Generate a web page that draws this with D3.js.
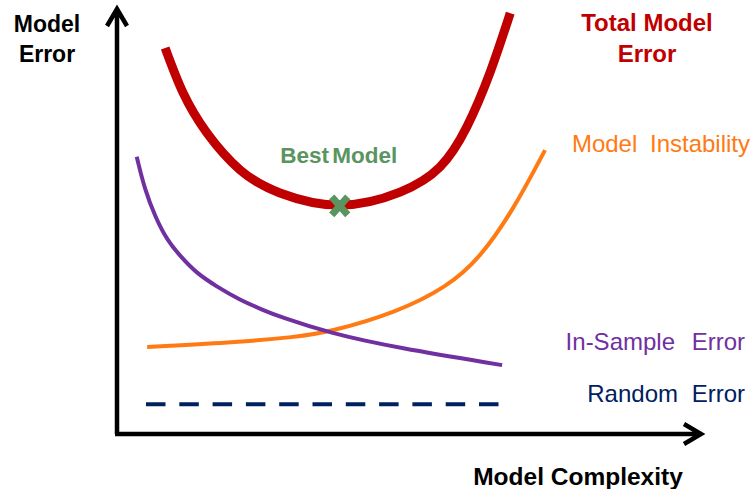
<!DOCTYPE html>
<html>
<head>
<meta charset="utf-8">
<script src="https://cdn.jsdelivr.net/npm/d3@7"></script>
<style>
  html, body { margin: 0; padding: 0; background: #fff; }
  svg text { font-family: Arial, "Liberation Sans", sans-serif; }
</style>
</head>
<body>
<div id="chart"></div>
<script>
const WIDTH = 753;
const HEIGHT = 489;

// complexity / error values (0-100 both ways)
const totalX = [8.3, 11.4, 15.5, 21.2, 28.1, 38.4, 48.8, 55.7, 60.3, 64.3, 67.8];
const totalY = [91.9, 81.2, 71.7, 62.9, 57.4, 54.5, 57.6, 63.6, 73.1, 86.0, 100.2];

const instabilityX = [5.2, 19.5, 31.0, 36.7, 48.3, 56.9, 62.6, 68.3, 73.8];
const instabilityY = [20.7, 21.7, 23.1, 24.3, 29.0, 35.0, 41.9, 53.3, 67.6];

const inSampleX = [3.4, 4.8, 6.6, 8.6, 11.0, 13.7, 17.2, 21.2, 25.2, 28.1, 36.7, 48.3, 66.4];
const inSampleY = [66.0, 58.1, 51.7, 46.2, 42.2, 38.3, 35.1, 31.9, 29.5, 27.9, 24.0, 20.5, 16.4];

const randomX = [5.0, 66.0];
const randomY = [7.1, 7.1];

const bestModel = [38.4, 54.3];

const seriesLabels = ['Total Model Error', 'Model Instability', 'In-Sample Error', 'Random Error'];
const axisLabels = ['Model Error', 'Model Complexity'];
const bestLabel = 'Best Model';

const svg = d3.select('#chart')
  .append('svg')
  .attr('width', WIDTH)
  .attr('height', HEIGHT);

const x = d3.scaleLinear().domain([0, 100]).range([117, 697]);
const y = d3.scaleLinear().domain([0, 100]).range([434, 14]);

const zip = (xs, ys) => xs.map((v, i) => [v, ys[i]]);

const lineWith = (curve) => d3.line()
  .x((d) => x(d[0]))
  .y((d) => y(d[1]))
  .curve(curve);

// axes with open arrow heads
const axes = svg.append('g').attr('class', 'axes')
  .attr('fill', 'none')
  .attr('stroke', '#000')
  .attr('stroke-width', 4.5);

axes.append('path')
  .attr('d', `M${x(0)},${y(0)} V8 M${x(0) - 10},26 L${x(0)},9 L${x(0) + 10},26`)
  .attr('stroke-linejoin', 'miter');
axes.append('path')
  .attr('d', `M${x(0) - 2},${y(0)} H702 M684,424 L701,${y(0)} L684,444`)
  .attr('stroke-linejoin', 'miter');

// curves
const curves = [
  { name: 'total', pts: zip(totalX, totalY), color: '#C00000', width: 9, curve: d3.curveNatural },
  { name: 'instability', pts: zip(instabilityX, instabilityY), color: '#FF7A12', width: 4, curve: d3.curveBasis },
  { name: 'insample', pts: zip(inSampleX, inSampleY), color: '#7030A0', width: 4, curve: d3.curveBasis },
];

svg.append('g').attr('class', 'curves')
  .selectAll('path')
  .data(curves)
  .enter()
  .append('path')
  .attr('d', (d) => lineWith(d.curve)(d.pts))
  .attr('fill', 'none')
  .attr('stroke', (d) => d.color)
  .attr('stroke-width', (d) => d.width);

svg.append('path')
  .attr('class', 'random')
  .attr('d', lineWith(d3.curveLinear)(zip(randomX, randomY)))
  .attr('fill', 'none')
  .attr('stroke', '#002060')
  .attr('stroke-width', 4)
  .attr('stroke-dasharray', '19.5,13.8');

// best model marker
const bx = x(bestModel[0]);
const by = y(bestModel[1]);
svg.append('path')
  .attr('d', `M${bx - 8},${by - 9} L${bx + 8},${by + 9} M${bx + 8},${by - 9} L${bx - 8},${by + 9}`)
  .attr('stroke', '#5A9460')
  .attr('stroke-width', 7)
  .attr('fill', 'none');

svg.append('text')
  .attr('x', bx - 1)
  .attr('y', 163)
  .attr('text-anchor', 'middle')
  .attr('font-size', 22.5)
  .attr('font-weight', 'bold')
  .attr('word-spacing', -3)
  .attr('fill', '#5A9460')
  .text(bestLabel);

// axis titles
const yTitle = svg.append('text')
  .attr('text-anchor', 'middle')
  .attr('font-size', 23)
  .attr('font-weight', 'bold')
  .attr('fill', '#000');
axisLabels[0].split(' ').forEach((w, i) => {
  yTitle.append('tspan').attr('x', 47).attr('y', 32 + i * 30).text(w);
});

svg.append('text')
  .attr('x', 578)
  .attr('y', 485)
  .attr('text-anchor', 'middle')
  .attr('font-size', 24.5)
  .attr('font-weight', 'bold')
  .attr('fill', '#000')
  .text(axisLabels[1]);

// series labels
const totalLabel = svg.append('text')
  .attr('text-anchor', 'middle')
  .attr('font-size', 24)
  .attr('font-weight', 'bold')
  .attr('fill', '#C00000');
totalLabel.append('tspan').attr('x', 647).attr('y', 31).text('Total Model');
totalLabel.append('tspan').attr('x', 647).attr('y', 62).text('Error');

const rightLabels = [
  { text: seriesLabels[1], y: 152, color: '#FF7A12', right: 750, ws: 6 },
  { text: seriesLabels[2], y: 350, color: '#7030A0', right: 745, ws: 10 },
  { text: seriesLabels[3], y: 402, color: '#002060', right: 745, ws: 7 },
];

svg.append('g').selectAll('text')
  .data(rightLabels)
  .enter()
  .append('text')
  .attr('x', (d) => d.right)
  .attr('y', (d) => d.y)
  .attr('text-anchor', 'end')
  .attr('font-size', 24)
  .attr('word-spacing', (d) => d.ws)
  .attr('fill', (d) => d.color)
  .text((d) => d.text);
</script>
</body>
</html>
